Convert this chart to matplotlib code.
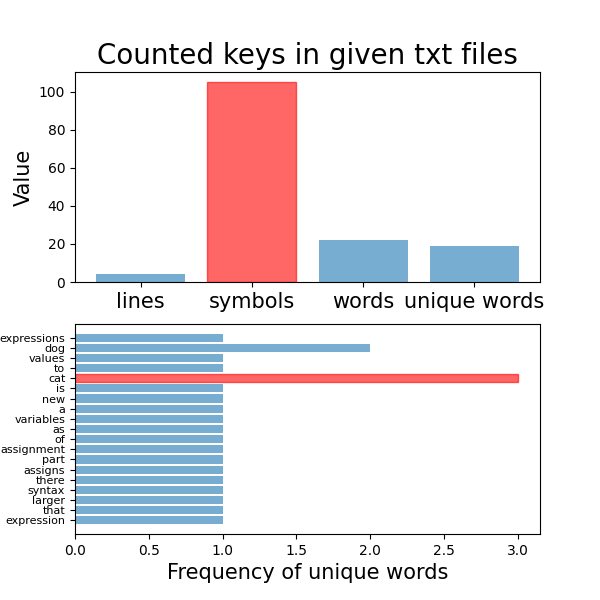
import numpy as np
import matplotlib
matplotlib.use("Agg")
import matplotlib.pyplot as plt

# counted keys
keys = ["lines", "symbols", "words", "unique words"]
key_counts = [4, 105, 22, 19]

# unique words, bottom to top
words = ["expression", "that", "larger", "syntax", "there", "assigns", "part", "assignment",
         "of", "as", "variables", "a", "new", "is", "cat", "to", "values", "dog", "expressions"]
word_freq = [1, 1, 1, 1, 1, 1, 1, 1, 1, 1, 1, 1, 1, 1, 3, 1, 1, 2, 1]

fig = plt.figure(figsize=(6, 6), dpi=100)

ax1 = plt.subplot(2, 1, 1)
colors = ['tab:blue'] * len(keys)
widths = [0] * len(keys)
imax = int(np.argmax(key_counts))
colors[imax] = 'red'
widths[imax] = 1
ax1.bar(keys, key_counts, color=colors, edgecolor='red', linewidth=widths, alpha=0.6)
ax1.set_title("Counted keys in given txt files", fontsize=20)
ax1.set_ylabel("Value", fontsize=15)
ax1.tick_params(axis='x', labelsize=15)

ax2 = plt.subplot(2, 1, 2)
wcolors = ['tab:blue'] * len(words)
wwidths = [0] * len(words)
jmax = int(np.argmax(word_freq))
wcolors[jmax] = 'red'
wwidths[jmax] = 1
ax2.barh(np.arange(len(words)), word_freq, color=wcolors, edgecolor='red', linewidth=wwidths, alpha=0.6)
ax2.set_yticks(np.arange(len(words)))
ax2.set_yticklabels(words, fontsize=8)
ax2.set_xlabel("Frequency of unique words", fontsize=15)

plt.savefig("out.png", dpi=100)
